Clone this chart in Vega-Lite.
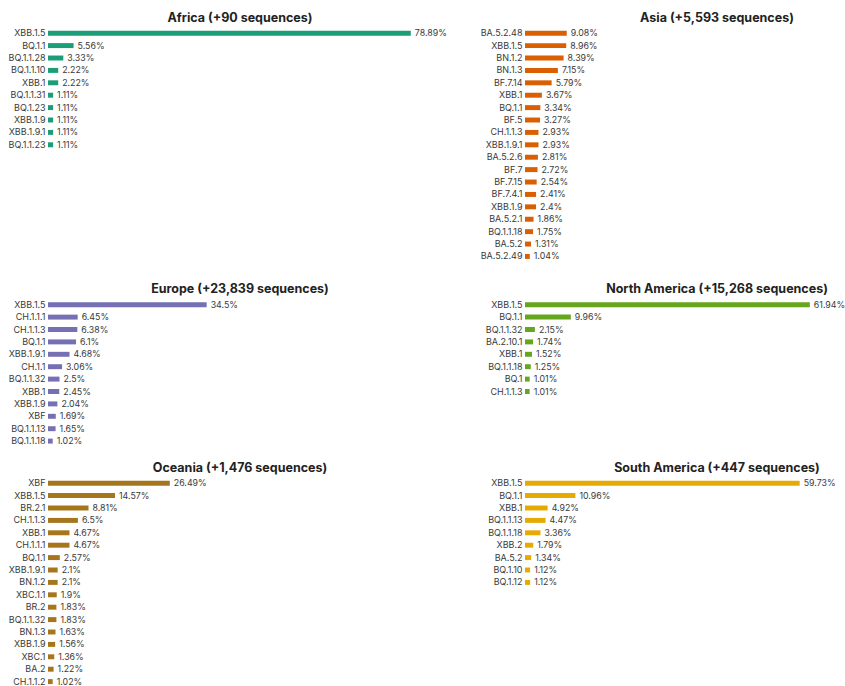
{
  "$schema": "https://vega.github.io/schema/vega-lite/v6.json",
  "padding": {"left": 8, "top": 11, "right": 5, "bottom": 5},
  "background": "white",
  "datasets": {
    "africa": [
      {"lineage": "XBB.1.5", "share": 0.7889},
      {"lineage": "BQ.1.1", "share": 0.0556},
      {"lineage": "BQ.1.1.28", "share": 0.0333},
      {"lineage": "BQ.1.1.10", "share": 0.0222},
      {"lineage": "XBB.1", "share": 0.0222},
      {"lineage": "BQ.1.1.31", "share": 0.0111},
      {"lineage": "BQ.1.23", "share": 0.0111},
      {"lineage": "XBB.1.9", "share": 0.0111},
      {"lineage": "XBB.1.9.1", "share": 0.0111},
      {"lineage": "BQ.1.1.23", "share": 0.0111}
    ],
    "asia": [
      {"lineage": "BA.5.2.48", "share": 0.0908},
      {"lineage": "XBB.1.5", "share": 0.0896},
      {"lineage": "BN.1.2", "share": 0.0839},
      {"lineage": "BN.1.3", "share": 0.0715},
      {"lineage": "BF.7.14", "share": 0.0579},
      {"lineage": "XBB.1", "share": 0.0367},
      {"lineage": "BQ.1.1", "share": 0.0334},
      {"lineage": "BF.5", "share": 0.0327},
      {"lineage": "CH.1.1.3", "share": 0.0293},
      {"lineage": "XBB.1.9.1", "share": 0.0293},
      {"lineage": "BA.5.2.6", "share": 0.0281},
      {"lineage": "BF.7", "share": 0.0272},
      {"lineage": "BF.7.15", "share": 0.0254},
      {"lineage": "BF.7.4.1", "share": 0.0241},
      {"lineage": "XBB.1.9", "share": 0.024},
      {"lineage": "BA.5.2.1", "share": 0.0186},
      {"lineage": "BQ.1.1.18", "share": 0.0175},
      {"lineage": "BA.5.2", "share": 0.0131},
      {"lineage": "BA.5.2.49", "share": 0.0104}
    ],
    "europe": [
      {"lineage": "XBB.1.5", "share": 0.345},
      {"lineage": "CH.1.1.1", "share": 0.0645},
      {"lineage": "CH.1.1.3", "share": 0.0638},
      {"lineage": "BQ.1.1", "share": 0.061},
      {"lineage": "XBB.1.9.1", "share": 0.0468},
      {"lineage": "CH.1.1", "share": 0.0306},
      {"lineage": "BQ.1.1.32", "share": 0.025},
      {"lineage": "XBB.1", "share": 0.0245},
      {"lineage": "XBB.1.9", "share": 0.0204},
      {"lineage": "XBF", "share": 0.0169},
      {"lineage": "BQ.1.1.13", "share": 0.0165},
      {"lineage": "BQ.1.1.18", "share": 0.0102}
    ],
    "northamerica": [
      {"lineage": "XBB.1.5", "share": 0.6194},
      {"lineage": "BQ.1.1", "share": 0.0996},
      {"lineage": "BQ.1.1.32", "share": 0.0215},
      {"lineage": "BA.2.10.1", "share": 0.0174},
      {"lineage": "XBB.1", "share": 0.0152},
      {"lineage": "BQ.1.1.18", "share": 0.0125},
      {"lineage": "BQ.1", "share": 0.0101},
      {"lineage": "CH.1.1.3", "share": 0.0101}
    ],
    "oceania": [
      {"lineage": "XBF", "share": 0.2649},
      {"lineage": "XBB.1.5", "share": 0.1457},
      {"lineage": "BR.2.1", "share": 0.0881},
      {"lineage": "CH.1.1.3", "share": 0.065},
      {"lineage": "XBB.1", "share": 0.0467},
      {"lineage": "CH.1.1.1", "share": 0.0467},
      {"lineage": "BQ.1.1", "share": 0.0257},
      {"lineage": "XBB.1.9.1", "share": 0.021},
      {"lineage": "BN.1.2", "share": 0.021},
      {"lineage": "XBC.1.1", "share": 0.019},
      {"lineage": "BR.2", "share": 0.0183},
      {"lineage": "BQ.1.1.32", "share": 0.0183},
      {"lineage": "BN.1.3", "share": 0.0163},
      {"lineage": "XBB.1.9", "share": 0.0156},
      {"lineage": "XBC.1", "share": 0.0136},
      {"lineage": "BA.2", "share": 0.0122},
      {"lineage": "CH.1.1.2", "share": 0.0102}
    ],
    "southamerica": [
      {"lineage": "XBB.1.5", "share": 0.5973},
      {"lineage": "BQ.1.1", "share": 0.1096},
      {"lineage": "XBB.1", "share": 0.0492},
      {"lineage": "BQ.1.1.13", "share": 0.0447},
      {"lineage": "BQ.1.1.18", "share": 0.0336},
      {"lineage": "XBB.2", "share": 0.0179},
      {"lineage": "BA.5.2", "share": 0.0134},
      {"lineage": "BQ.1.10", "share": 0.0112},
      {"lineage": "BQ.1.12", "share": 0.0112}
    ]
  },
  "columns": 2,
  "bounds": "flush",
  "align": "each",
  "spacing": {"row": 29.5, "column": 93},
  "concat": [
    {
      "data": {"name": "africa"},
      "title": "Africa (+90 sequences)",
      "width": 384,
      "height": {"step": 12.4},
      "encoding": {
        "y": {"field": "lineage", "type": "nominal", "sort": null, "title": null, "scale": {"paddingInner": 0.6, "paddingOuter": 0.3}},
        "x": {"field": "share", "type": "quantitative", "axis": null, "scale": {"domain": [0, 0.835], "nice": false}}
      },
      "layer": [
        {"mark": {"type": "bar", "color": "#1b9e77"}},
        {"mark": {"type": "text", "align": "left", "baseline": "middle", "dx": 4, "fontSize": 8.8, "font": "Inter", "color": "#3a3a3a"}, "encoding": {"text": {"field": "share", "format": ".2~%"}}}
      ]
    },
    {
      "data": {"name": "asia"},
      "title": "Asia (+5,593 sequences)",
      "width": 384,
      "height": 241.6,
      "encoding": {
        "y": {"field": "lineage", "type": "nominal", "sort": null, "title": null, "scale": {"paddingInner": 0.6, "paddingOuter": 0.54, "align": 0.278}},
        "x": {"field": "share", "type": "quantitative", "axis": null, "scale": {"domain": [0, 0.835], "nice": false}}
      },
      "layer": [
        {"mark": {"type": "bar", "color": "#d95f02"}},
        {"mark": {"type": "text", "align": "left", "baseline": "middle", "dx": 4, "fontSize": 8.8, "font": "Inter", "color": "#3a3a3a"}, "encoding": {"text": {"field": "share", "format": ".2~%"}}}
      ]
    },
    {
      "data": {"name": "europe"},
      "title": "Europe (+23,839 sequences)",
      "width": 384,
      "height": {"step": 12.4},
      "encoding": {
        "y": {"field": "lineage", "type": "nominal", "sort": null, "title": null, "scale": {"paddingInner": 0.6, "paddingOuter": 0.3}},
        "x": {"field": "share", "type": "quantitative", "axis": null, "scale": {"domain": [0, 0.835], "nice": false}}
      },
      "layer": [
        {"mark": {"type": "bar", "color": "#7570b3"}},
        {"mark": {"type": "text", "align": "left", "baseline": "middle", "dx": 4, "fontSize": 8.8, "font": "Inter", "color": "#3a3a3a"}, "encoding": {"text": {"field": "share", "format": ".2~%"}}}
      ]
    },
    {
      "data": {"name": "northamerica"},
      "title": "North America (+15,268 sequences)",
      "width": 384,
      "height": {"step": 12.4},
      "encoding": {
        "y": {"field": "lineage", "type": "nominal", "sort": null, "title": null, "scale": {"paddingInner": 0.6, "paddingOuter": 0.3}},
        "x": {"field": "share", "type": "quantitative", "axis": null, "scale": {"domain": [0, 0.835], "nice": false}}
      },
      "layer": [
        {"mark": {"type": "bar", "color": "#66a61e"}},
        {"mark": {"type": "text", "align": "left", "baseline": "middle", "dx": 4, "fontSize": 8.8, "font": "Inter", "color": "#3a3a3a"}, "encoding": {"text": {"field": "share", "format": ".2~%"}}}
      ]
    },
    {
      "data": {"name": "oceania"},
      "title": "Oceania (+1,476 sequences)",
      "width": 384,
      "height": {"step": 12.4},
      "encoding": {
        "y": {"field": "lineage", "type": "nominal", "sort": null, "title": null, "scale": {"paddingInner": 0.6, "paddingOuter": 0.3}},
        "x": {"field": "share", "type": "quantitative", "axis": null, "scale": {"domain": [0, 0.835], "nice": false}}
      },
      "layer": [
        {"mark": {"type": "bar", "color": "#a6761d"}},
        {"mark": {"type": "text", "align": "left", "baseline": "middle", "dx": 4, "fontSize": 8.8, "font": "Inter", "color": "#3a3a3a"}, "encoding": {"text": {"field": "share", "format": ".2~%"}}}
      ]
    },
    {
      "data": {"name": "southamerica"},
      "title": "South America (+447 sequences)",
      "width": 384,
      "height": {"step": 12.4},
      "encoding": {
        "y": {"field": "lineage", "type": "nominal", "sort": null, "title": null, "scale": {"paddingInner": 0.6, "paddingOuter": 0.3}},
        "x": {"field": "share", "type": "quantitative", "axis": null, "scale": {"domain": [0, 0.835], "nice": false}}
      },
      "layer": [
        {"mark": {"type": "bar", "color": "#e6ab02"}},
        {"mark": {"type": "text", "align": "left", "baseline": "middle", "dx": 4, "fontSize": 8.8, "font": "Inter", "color": "#3a3a3a"}, "encoding": {"text": {"field": "share", "format": ".2~%"}}}
      ]
    }
  ],
  "config": {
    "view": {"stroke": null},
    "font": "Inter",
    "title": {"font": "Inter", "fontSize": 12.5, "fontWeight": "bold", "color": "#222", "anchor": "middle", "frame": "group", "offset": 3, "baseline": "alphabetic"},
    "axisY": {"domain": false, "ticks": false, "grid": false, "labelPadding": 3, "labelFont": "Inter", "labelFontSize": 9, "labelColor": "#3a3a3a", "minExtent": 40, "maxExtent": 40}
  }
}
